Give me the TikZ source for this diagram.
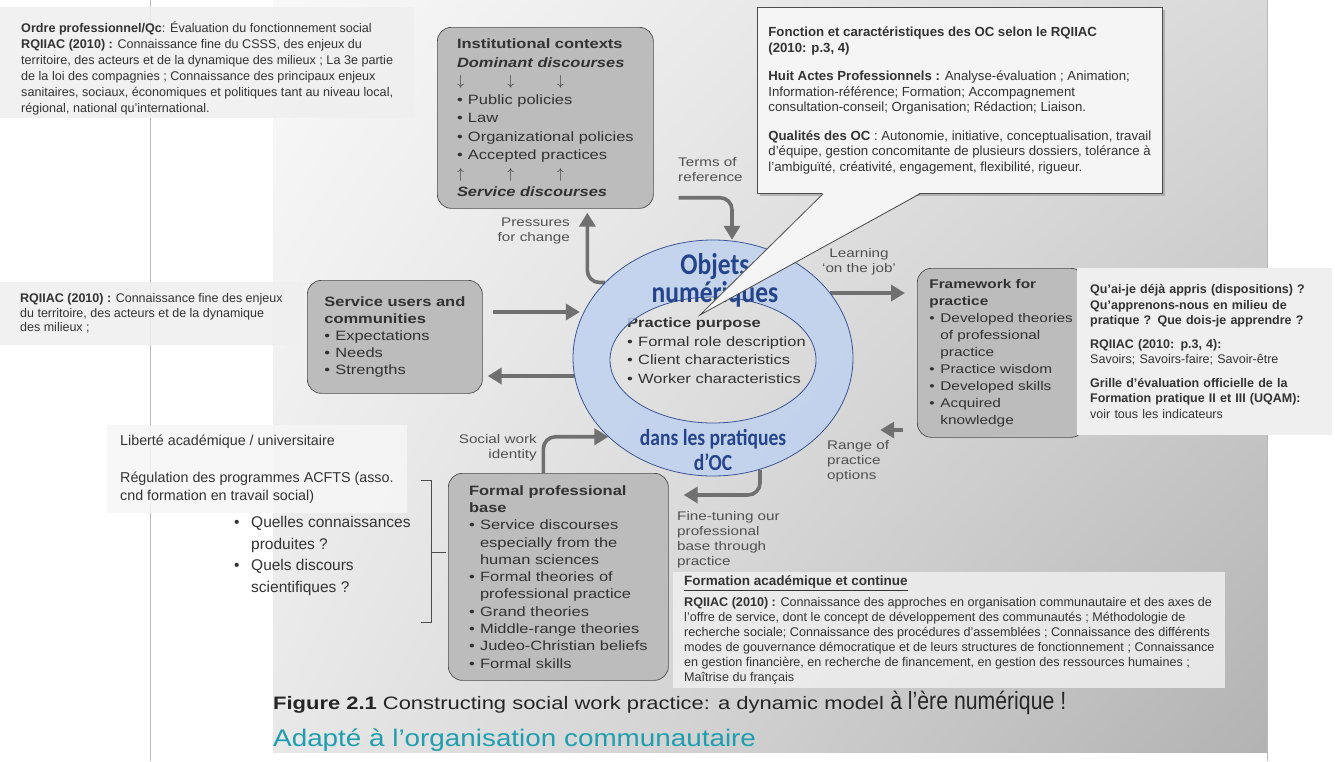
\documentclass[tikz,border=0pt]{standalone}
\usepackage{fontspec}
\setmainfont{Liberation Sans}
\newfontfamily\bookfont{Liberation Sans}[FakeStretch=1.22, Ligatures=TeX]
\newfontfamily\widefont{Liberation Sans}[FakeStretch=1.16, Ligatures=TeX]
\newfontfamily\narrowfont{Liberation Sans}[FakeStretch=0.85, Ligatures=TeX]
\newfontfamily\ringfont{Carlito}[FakeStretch=0.85, Ligatures=TeX]
\usetikzlibrary{arrows.meta}
\usetikzlibrary{shapes.geometric}
\usetikzlibrary{shadows}
\usetikzlibrary{shadings}

\definecolor{inkgray}{RGB}{50,50,50}
\definecolor{boxgray}{RGB}{188,188,188}
\definecolor{arrowgray}{RGB}{112,112,112}
\definecolor{notegray}{RGB}{239,239,239}
\definecolor{ringblue}{RGB}{192,210,240}
\definecolor{ringline}{RGB}{60,85,150}
\definecolor{ringtext}{RGB}{38,68,140}
\definecolor{captionteal}{RGB}{30,158,175}

\newcommand{\bitem}{\makebox[11pt][l]{\textbullet}}
\newcommand{\bcont}{\hspace*{11pt}}
\newcommand{\qitem}{\makebox[17pt][l]{\textbullet}}
\newcommand{\qcont}{\hspace*{17pt}}
\newcommand{\trio}[1]{\makebox[50pt][l]{#1}\makebox[50pt][l]{#1}#1}

\begin{document}
\begin{tikzpicture}[x=1pt,y=-1pt]
\tikzset{
  book/.style={rectangle, rounded corners=14pt, draw=black!70, line width=.7pt, fill=boxgray,
    anchor=north west, align=left, inner xsep=14pt, inner ysep=0pt, text=inkgray,
    font=\bookfont\fontsize{13.5}{17.5}\selectfont},
  note/.style={rectangle, fill=notegray, fill opacity=.85, text opacity=1, anchor=north west,
    align=left, inner xsep=13pt, inner ysep=0pt, text=black!80, font=\fontsize{12.6}{16}\selectfont},
  fat/.style={line width=3.6pt, draw=arrowgray, -{Triangle[length=14pt,width=16pt]}},
  lbl/.style={inner sep=0pt, align=left, text=inkgray!85, font=\bookfont\fontsize{12.5}{15}\selectfont}
}
\useasboundingbox (0,0) rectangle (1335,761);
\fill[white] (0,0) rectangle (1335,761);
% the book page
\shade[upper left=gray!5, upper right=gray!30, lower left=gray!18, lower right=gray!60] (273,0) rectangle (1267,752);
\draw[gray!55] (150,0) -- (150,761);
\draw[gray!55] (1267,0) -- (1267,761);

% boxes of the model
\node[book, minimum width=216pt, minimum height=181pt, font=\bookfont\fontsize{13.5}{18.5}\selectfont] (inst) at (437,27)
  {\textbf{Institutional contexts}\\
   \textbf{\textit{Dominant discourses}}\\
   \trio{$\downarrow$}\\
   \bitem Public policies\\
   \bitem Law\\
   \bitem Organizational policies\\
   \bitem Accepted practices\\
   \trio{$\uparrow$}\\
   \textbf{\textit{Service discourses}}};
\node[book, minimum width=175pt, minimum height=113pt, font=\bookfont\fontsize{13.5}{17}\selectfont] (users) at (307,280)
  {\textbf{Service users and}\\
   \textbf{communities}\\
   \bitem Expectations\\
   \bitem Needs\\
   \bitem Strengths};
\node[book, minimum width=156pt, minimum height=169pt, inner xsep=12pt, font=\bookfont\fontsize{12.6}{17}\selectfont] (frame) at (917,268)
  {\textbf{Framework for}\\
   \textbf{practice}\\
   \bitem Developed theories\\
   \bcont of professional\\
   \bcont practice\\
   \bitem Practice wisdom\\
   \bitem Developed skills\\
   \bitem Acquired\\
   \bcont knowledge};
\node[book, minimum width=220pt, minimum height=207pt, font=\bookfont\fontsize{13.5}{17.3}\selectfont] (formal) at (448,473)
  {\textbf{Formal professional}\\
   \textbf{base}\\
   \bitem Service discourses\\
   \bcont especially from the\\
   \bcont human sciences\\
   \bitem Formal theories of\\
   \bcont professional practice\\
   \bitem Grand theories\\
   \bitem Middle-range theories\\
   \bitem Judeo-Christian beliefs\\
   \bitem Formal skills};

% the ring
\node[ellipse, minimum width=280pt, minimum height=236pt, inner sep=0pt] (ring) at (713,358) {};
\node[ellipse, minimum width=206pt, minimum height=126pt, inner sep=0pt] (hole) at (713,360) {};

\draw[fat, shorten <=10pt, shorten >=-7pt] (users.east |- 0,312) -- (ring.west |- 0,312);
\draw[fat, shorten <=-2pt, shorten >=5pt] (ring.west |- 0,376) -- (users.east |- 0,376);
\draw[fat, rounded corners=12pt] (ring.145) -| ([xshift=42pt,yshift=-4pt]inst.south);
\draw[fat, rounded corners=12pt] ([xshift=25pt,yshift=11pt]inst.south east) -| ([xshift=19pt]ring.north);
\draw[fat, shorten >=12pt] (ring.29) -- (frame.west |- ring.29);
\draw[fat, shorten <=14pt, shorten >=27pt] (frame.west |- 0,430) -- (ring.east |- 0,430);
\draw[fat, rounded corners=12pt, shorten >=15pt] ([xshift=47pt,yshift=6pt]ring.south) |- (formal.east |- 0,495);
\draw[fat, rounded corners=12pt] ([xshift=-15pt]formal.north) |- (ring.217);

\node[anchor=north west, inner sep=0pt, align=left, text=inkgray, font=\bookfont\fontsize{13.5}{18.5}\selectfont] (purpose) at (627,318)
  {\textbf{Practice purpose}\\
   \bitem Formal role description\\
   \bitem Client characteristics\\
   \bitem Worker characteristics};

\filldraw[draw=ringline, fill=ringblue, fill opacity=.85, even odd rule, line width=.8pt]
  (ring.center) ellipse [x radius=140, y radius=118] (hole.center) ellipse [x radius=103, y radius=63];
\node[text=ringtext, align=center, font=\ringfont\bfseries\fontsize{30}{28}\selectfont] (objets) at (715,280) {Objets\\numériques};
\node[text=ringtext, align=center, font=\ringfont\bfseries\fontsize{23}{25}\selectfont] (dans) at (713,450) {dans les pratiques\\d'OC};

% arrow labels
\node[lbl, anchor=east, align=right] (pressures) at (570,231) {Pressures\\for change};
\node[lbl, anchor=west] (terms) at (678,170) {Terms of\\reference};
\node[lbl, align=center] (learning) at (859,262) {Learning\\`on the job'};
\node[lbl, anchor=north west] (range) at (827,440) {Range of\\practice\\options};
\node[lbl, anchor=north west] (finetune) at (677,511) {Fine-tuning our\\professional\\base through\\practice};
\node[lbl, anchor=east, align=right] (identity) at (537,448) {Social work\\identity};

% captions
\node[anchor=base west, inner sep=0pt, text=black!85, font=\bookfont\fontsize{18}{20}\selectfont] (figcap) at (273,709)
  {\textbf{Figure 2.1}\hspace{6pt}Constructing social work practice: a dynamic model {\narrowfont\fontsize{25}{25}\selectfont à l'ère numérique !}};
\node[anchor=base west, inner sep=0pt, text=captionteal, font=\widefont\fontsize{24}{24}\selectfont] (adapte) at (273,746)
  {Adapté à l'organisation communautaire};

% notes on the slide
\node[note, inner xsep=21pt, minimum height=111pt] (ordre) at (0,7)
  {\rule{0pt}{22pt}\textbf{Ordre professionnel/Qc}: Évaluation du fonctionnement social\\
   \textbf{RQIIAC (2010) :} Connaissance fine du CSSS, des enjeux du\\
   territoire, des acteurs et de la dynamique des milieux ; La 3e partie\\
   de la loi des compagnies ; Connaissance des principaux enjeux\\
   sanitaires, sociaux, économiques et politiques tant au niveau local,\\
   régional, national qu'international.};
\node[note, inner xsep=20pt, minimum height=63pt, font=\fontsize{12.5}{14.5}\selectfont] (milieux) at (0,282)
  {\textbf{RQIIAC (2010) :} Connaissance fine des enjeux\\
   du territoire, des acteurs et de la dynamique\\
   des milieux ;};
\node[note, fill opacity=1, inner xsep=13pt, text width=229pt, minimum height=167pt, font=\fontsize{12.5}{15.5}\selectfont] (savoirs) at (1077,268)
  {\textbf{Qu'ai-je déjà appris (dispositions) ?}\\
   \textbf{Qu'apprenons-nous en milieu de}\\
   \textbf{pratique ? Que dois-je apprendre ?}\\[8pt]
   \textbf{RQIIAC (2010: p.3, 4):}\\
   Savoirs; Savoirs-faire; Savoir-être\\[8pt]
   \textbf{Grille d'évaluation officielle de la}\\
   \textbf{Formation pratique II et III (UQAM):}\\
   voir tous les indicateurs};
\node[note, inner xsep=11pt, minimum height=116pt, font=\fontsize{12.6}{15}\selectfont] (formation) at (673,572)
  {{\fontsize{13.5}{15}\selectfont\underline{\textbf{Formation académique et continue}}}\\[6pt]
   \textbf{RQIIAC (2010) :} Connaissance des approches en organisation communautaire et des axes de\\
   l'offre de service, dont le concept de développement des communautés ; Méthodologie de\\
   recherche sociale; Connaissance des procédures d'assemblées ; Connaissance des différents\\
   modes de gouvernance démocratique et de leurs structures de fonctionnement ; Connaissance\\
   en gestion financière, en recherche de financement, en gestion des ressources humaines ;\\
   Maîtrise du français};
\node[note, fill=gray!7, inner xsep=13pt, minimum height=88pt, font=\fontsize{14.3}{18}\selectfont] (liberte) at (107,425)
  {Liberté académique / universitaire\\[19pt]
   Régulation des programmes ACFTS (asso.\\
   cnd formation en travail social)};
\node[anchor=north west, inner sep=0pt, align=left, text=black!80, font=\fontsize{15.5}{21.7}\selectfont] (questions) at (234,516)
  {\qitem Quelles connaissances\\
   \qcont produites ?\\
   \qitem Quels discours\\
   \qcont scientifiques ?};
\draw[black!70, line width=1pt] (421,480) -- (431,480) -- (431,622) -- (421,622);
\draw[black!70, line width=1pt] (431,552) -- (446,552);

% callout
\node[note, fill=gray!8, fill opacity=1, draw=black!70, line width=.8pt, inner xsep=11pt, minimum height=186pt,
  font=\fontsize{13.2}{15.5}\selectfont, drop shadow={shadow xshift=3pt, shadow yshift=-3pt, opacity=.45}] (callout) at (757,7)
  {\textbf{Fonction et caractéristiques des OC selon le RQIIAC}\\
   \textbf{(2010: p.3, 4)}\\[13pt]
   \textbf{Huit Actes Professionnels :} Analyse-évaluation ; Animation;\\
   Information-référence; Formation; Accompagnement\\
   consultation-conseil; Organisation; Rédaction; Liaison.\\[13pt]
   \textbf{Qualités des OC} : Autonomie, initiative, conceptualisation, travail\\
   d'équipe, gestion concomitante de plusieurs dossiers, tolérance à\\
   l'ambiguïté, créativité, engagement, flexibilité, rigueur.};
\coordinate (tip) at (700,315);
\fill[gray!8] ([xshift=66pt,yshift=1pt]callout.south west) -- (tip) -- ([xshift=163pt,yshift=1pt]callout.south west) -- cycle;
\draw[black!70, line width=.8pt] ([xshift=66pt]callout.south west) -- (tip) -- ([xshift=163pt]callout.south west);
\end{tikzpicture}
\end{document}
